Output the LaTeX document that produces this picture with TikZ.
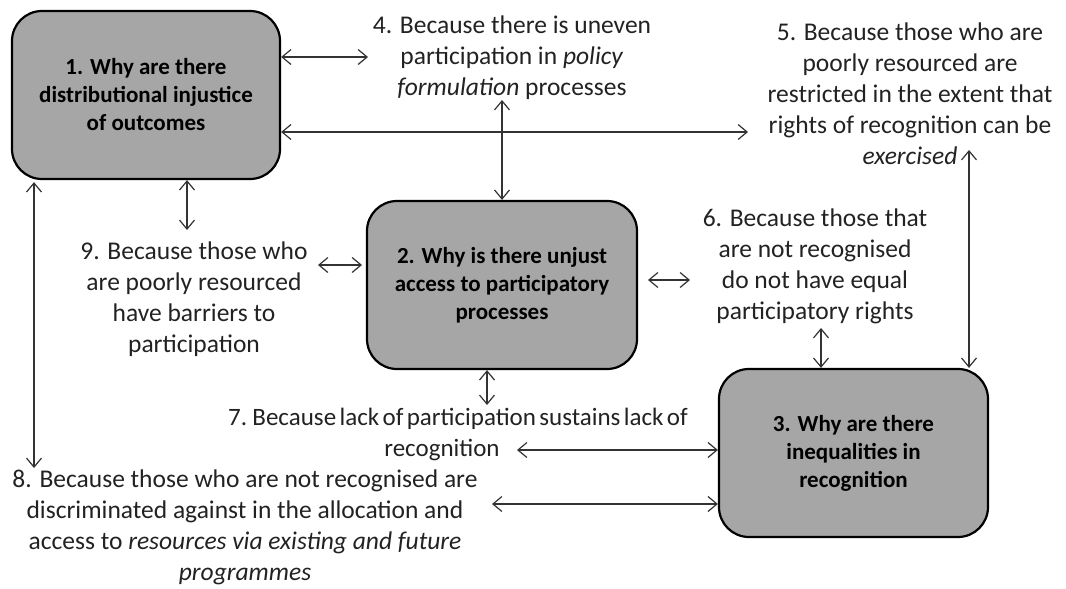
\documentclass[tikz,border=0pt]{standalone}
\usepackage{fontspec}
\setmainfont{Carlito}
\usetikzlibrary{arrows.meta}
\begin{document}
\begin{tikzpicture}[x=1pt,y=-1pt,
  qbox/.style={draw=black,line width=2.2pt,fill=boxgray,rounded corners=30pt,
    minimum width=268pt,minimum height=168pt,align=center,
    font=\fontsize{23}{28}\selectfont\bfseries,text=black},
  reason/.style={align=center,inner sep=0pt,text=txtgray,
    font=\fontsize{25.5}{31}\selectfont},
  dbl/.style={line width=1.2pt,draw=linegray,
    {Straight Barb[length=9pt,width=15pt]}-{Straight Barb[length=9pt,width=15pt]}}
]
\definecolor{boxgray}{HTML}{A6A6A6}
\definecolor{txtgray}{HTML}{222222}
\definecolor{linegray}{HTML}{333333}
\useasboundingbox (0,0) rectangle (1066,589);

% question boxes
\node[qbox] (b1) at (146,95) {1. Why are there\\distributional injustice\\of outcomes};
\node[qbox,minimum width=270pt] (b2) at (502,285) {2. Why is there unjust\\access to participatory\\processes};
\node[qbox,minimum width=269pt] (b3) at (853.5,453) {3. Why are there\\inequalities in\\recognition};

% reasons
\node[reason] (n4) at (512,58) {4. Because there is uneven\\participation in \textit{policy}\\\textit{formulation} processes};
\node[reason] (n5) at (910,94) {5. Because those who are\\poorly resourced are\\restricted in the extent that\\rights of recognition can be\\\textit{exercised}};
\node[reason] (n6) at (815,266) {6. Because those that\\are not recognised\\do not have equal\\participatory rights};
\node[reason] (n9) at (194,299) {9. Because those who\\are poorly resourced\\have barriers to\\participation};
\node[reason,font=\fontsize{25}{31}\selectfont] (n7) at (458,434)
  {\spaceskip=3.4pt plus 1pt 7. Because lack of participation sustains lack of\\recognition\hspace*{32pt}};
\node[reason] (n8) at (245,527) {8. Because those who are not recognised are\\discriminated against in the allocation and\\access to \textit{resources via existing and future}\\\textit{programmes}};

% free ends of the connectors
\coordinate (e4) at (368,57);
\coordinate (e5) at (748,132);
\coordinate (e42) at (502,100);
\coordinate (e53) at (969,150);
\coordinate (e19) at (187,230);
\coordinate (e18) at (34,468);
\coordinate (e92a) at (318,265);
\coordinate (e92b) at (362,265);
\coordinate (e26a) at (648,280);
\coordinate (e26b) at (690,280);
\coordinate (e27) at (487,405);
\coordinate (e63) at (821,328);
\coordinate (e73) at (517,450);
\coordinate (e83) at (492,504);

% connectors
\draw[dbl] (b1.east |- e4) -- (e4);
\draw[dbl] (b1.east |- e5) -- (e5);
\draw[dbl] (e42) -- (b2.north);
\draw[dbl] (e53) -- (e53 |- b3.north);
\draw[dbl] (b1.south -| e19) -- (e19);
\draw[dbl] ([yshift=-2pt]b1.south -| e18) -- (e18);
\draw[dbl] (e92a) -- (e92b);
\draw[dbl] (e26a) -- (e26b);
\draw[dbl] (b2.south -| e27) -- (e27);
\draw[dbl] (e63) -- (e63 |- b3.north);
\draw[dbl] (e73) -- (b3.west |- e73);
\draw[dbl] (e83) -- (b3.west |- e83);
\end{tikzpicture}
\end{document}
